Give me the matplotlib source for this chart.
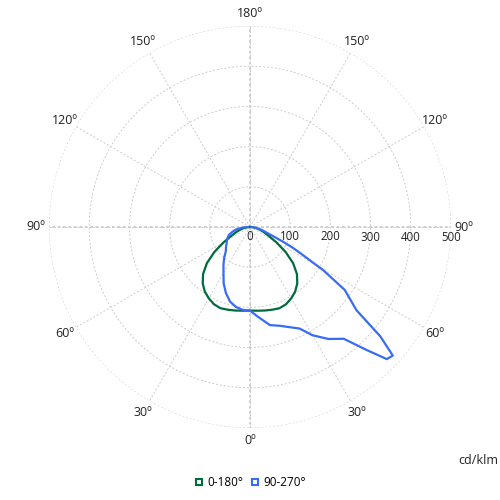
import numpy as np
import matplotlib.pyplot as plt
from matplotlib.lines import Line2D

plt.rcParams['font.family'] = ['Open Sans', 'DejaVu Sans']

# C0-C180 plane (symmetric), gamma in degrees, intensity in cd/klm
gamma_green = [0, 5, 10, 15, 20, 25, 30, 35, 40, 45, 50, 55, 60, 65, 70, 75, 80, 85, 90]
green_vals = [208, 209, 211, 213, 215, 212, 205, 196, 183, 165, 140, 108, 75, 50, 36, 25, 16, 8, 2]

# C90 half (right side)
gamma_c90 = [0, 5, 11.5, 17, 20, 26, 30, 35, 40, 43.5, 46, 48, 50, 52, 56.4, 59.5,
             60.5, 62, 64, 66, 70, 76, 83, 90]
c90_vals = [208, 224, 249, 257, 264, 281, 311, 340, 363, 422, 473, 478, 423, 336, 283, 211,
            180, 150, 120, 90, 50, 30, 12, 4]

# C270 half (left side)
gamma_c270 = [0, 5, 10, 15, 20, 25, 30, 35, 40, 45, 50, 55, 60, 65, 70, 75, 80, 85, 90]
c270_vals = [208, 207, 202, 192, 175, 155, 132, 115, 100, 85, 78, 71, 66, 61, 55, 45, 35, 20, 5]

rticks = [100, 200, 300, 400, 500]
ang_ticks = [0, 30, 60, 90, 120, 150, 180, 210, 240, 270, 300, 330]
ang_labels = ['0º', '30º', '60º', '90º', '120º', '150º', '180º', '150º', '120º', '90º', '60º', '30º']

green = '#006b3c'
blue = '#386cf5'

fig = plt.figure(figsize=(5, 5), dpi=100)
ax = fig.add_axes([0.098, 0.144, 0.804, 0.804], projection='polar')
ax.set_theta_zero_location('S')
ax.set_theta_direction(1)
ax.set_ylim(0, 500)
ax.set_rticks(rticks)
ax.set_yticklabels([])
ax.set_xticks(np.deg2rad(ang_ticks))
ax.set_xticklabels([])
ax.grid(True, color='#cccccc', linestyle=(0, (2, 2)), linewidth=0.7)
ax.spines['polar'].set_visible(False)
for a in [0, 90, 180, 270]:
    ax.axvline(np.deg2rad(a), color='#cccccc', linestyle=(0, (1.5, 1.5)), linewidth=1.3)

# angle labels
for a, lab in zip(ang_ticks, ang_labels):
    ax.text(np.deg2rad(a), 532, lab, ha='center', va='center', fontsize=9, color='#222222')

# radial labels
for r in [0] + rticks:
    ax.annotate(str(r), xy=(np.deg2rad(90), r), xytext=(0, -10), textcoords='offset pixels',
                ha='center', va='center', fontsize=8.3, color='#222222', annotation_clip=False)

g = np.deg2rad(gamma_green)
ax.plot(np.concatenate([-g[::-1], g]), green_vals[::-1] + green_vals, color=green, linewidth=1.6)
ax.plot(np.concatenate([-np.deg2rad(gamma_c270)[::-1], np.deg2rad(gamma_c90)]),
        c270_vals[::-1] + c90_vals, color=blue, linewidth=1.6)

fig.text(0.996, 0.08, 'cd/klm', ha='right', va='center', fontsize=9, color='#222222')

handles = [Line2D([], [], marker='s', linestyle='none', markerfacecolor='white',
                  markeredgecolor=green, markeredgewidth=1.5, markersize=5),
           Line2D([], [], marker='s', linestyle='none', markerfacecolor='white',
                  markeredgecolor=blue, markeredgewidth=1.5, markersize=5)]
fig.legend(handles, ['0-180°', '90-270°'], loc='center', bbox_to_anchor=(0.502, 0.034),
           ncol=2, frameon=False, fontsize=8.5, handlelength=0.6, handletextpad=0.4,
           columnspacing=0.7)

fig.savefig('out.png', dpi=100)
